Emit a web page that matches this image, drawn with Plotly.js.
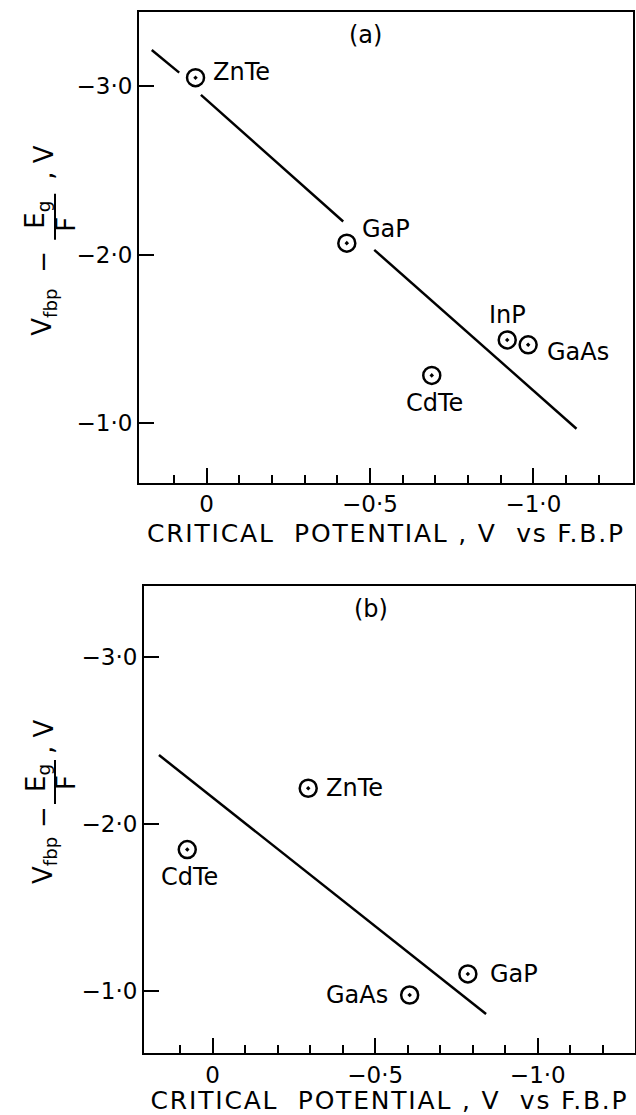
<!DOCTYPE html>
<html>
<head>
<meta charset="utf-8">
<script src="https://cdn.plot.ly/plotly-3.0.1.min.js"></script>
<style>html,body{margin:0;padding:0;background:#fff;}#chart{width:636px;height:1115px;}
#chart .xtitle, #chart .x2title{letter-spacing:1.8px;}</style>
</head>
<body>
<div id="chart"></div>
<script>
// ---------- data ----------
// panel (a)
const matA  = ['ZnTe', 'GaP', 'InP', 'GaAs', 'CdTe'];
const critA = [0.034, -0.429, -0.920, -0.984, -0.689];   // critical potential, V vs F.B.P
const vA    = [-3.049, -2.068, -1.494, -1.465, -1.284];  // Vfbp - Eg/F, V
const fitAx = [0.168, 0.084, null, 0.0175, -0.418, null, -0.513, -1.132];
const fitAy = [-3.213, -3.079, null, -2.947, -2.196, null, -2.028, -0.968];
// panel (b)
const matB  = ['ZnTe', 'CdTe', 'GaAs', 'GaP'];
const critB = [-0.294, 0.078, -0.606, -0.785];
const vB    = [-2.212, -1.845, -0.974, -1.100];
const fitBx = [0.165, -0.841];
const fitBy = [-2.411, -0.860];
// ticks
const xTickVals  = [0, -0.5, -1.0];
const xTickText  = ['0', '−0·5', '−1·0'];
const xMinorVals = [0.1, -0.1, -0.2, -0.3, -0.4, -0.6, -0.7, -0.8, -0.9, -1.1, -1.2];
const yTickVals  = [-3, -2, -1];
const yTickText  = ['−3·0', '−2·0', '−1·0'];
const panelTags  = ['(a)', '(b)'];
const xTitle = 'CRITICAL\u00a0\u00a0POTENTIAL\u00a0,\u00a0V\u00a0\u00a0vs\u00a0F.B.P';

// ---------- styles ----------
const FONT = 'DejaVu Sans, Liberation Sans, sans-serif';
const W = 636, H = 1115;
const px = v => v / W, py = v => 1 - v / H;

const markerStyle = {symbol: 'circle-open-dot', size: 17, color: '#000', line: {color: '#000', width: 2.5}};

const traces = [
  {x: fitAx, y: fitAy, xaxis: 'x', yaxis: 'y', mode: 'lines', line: {color: '#000', width: 2.5}, connectgaps: false, hoverinfo: 'skip'},
  {x: critA, y: vA, text: matA, xaxis: 'x', yaxis: 'y', mode: 'markers', marker: markerStyle},
  {x: fitBx, y: fitBy, xaxis: 'x2', yaxis: 'y2', mode: 'lines', line: {color: '#000', width: 2.5}, hoverinfo: 'skip'},
  {x: critB, y: vB, text: matB, xaxis: 'x2', yaxis: 'y2', mode: 'markers', marker: markerStyle}
];

function xAxis(domain, range, anchor) {
  return {
    domain: domain, range: range, anchor: anchor,
    showline: true, mirror: true, linecolor: '#000', linewidth: 2,
    showgrid: false, zeroline: false,
    tickmode: 'array', tickvals: xTickVals, ticktext: xTickText,
    ticks: 'inside', ticklen: 15, tickwidth: 2, tickcolor: '#000',
    tickfont: {family: FONT, size: 23, color: '#000'},
    minor: {tickmode: 'array', tickvals: xMinorVals, ticks: 'inside', ticklen: 8, tickwidth: 2, tickcolor: '#000', showgrid: false},
    title: {text: xTitle, font: {family: FONT, size: 25, color: '#000'}, standoff: 8},
    automargin: false, fixedrange: true
  };
}
function yAxis(domain, range, anchor) {
  return {
    domain: domain, range: range, anchor: anchor,
    showline: true, mirror: true, linecolor: '#000', linewidth: 2,
    showgrid: false, zeroline: false,
    tickmode: 'array', tickvals: yTickVals, ticktext: yTickText,
    ticks: 'inside', ticklen: 15, tickwidth: 2, tickcolor: '#000',
    tickfont: {family: FONT, size: 23, color: '#000'},
    automargin: false, fixedrange: true
  };
}

// point label offsets (pixels) : [xanchor, xshift, yshift]
const labA = [['left', 15, 6], ['left', 13, 14], ['center', 0, 25], ['left', 17, -7], ['center', 3, -28]];
const labB = [['left', 16, 0], ['center', 2, -27], ['right', -20, 0], ['left', 20, 0]];

const ann = [];
matA.forEach((m, i) => ann.push({x: critA[i], y: vA[i], xref: 'x', yref: 'y', text: m, showarrow: false,
  xanchor: labA[i][0], yanchor: 'middle', xshift: labA[i][1], yshift: labA[i][2],
  font: {family: FONT, size: 24, color: '#000'}}));
matB.forEach((m, i) => ann.push({x: critB[i], y: vB[i], xref: 'x2', yref: 'y2', text: m, showarrow: false,
  xanchor: labB[i][0], yanchor: 'middle', xshift: labB[i][1], yshift: labB[i][2],
  font: {family: FONT, size: 24, color: '#000'}}));

// panel tags
[[365, 35], [371, 609]].forEach((p, i) => ann.push({x: px(p[0]), y: py(p[1]), xref: 'paper', yref: 'paper',
  text: panelTags[i], showarrow: false, xanchor: 'center', yanchor: 'middle',
  font: {family: FONT, size: 24, color: '#000'}}));

// rotated y-axis label built from pieces (with a stacked Eg/F fraction)
const shapes = [];
function yLabel(top, off) {
  const f = {family: FONT, size: 26, color: '#000'};
  const put = (text, x, y) => ann.push({x: px(x), y: py(top + y), xref: 'paper', yref: 'paper', text: text,
    showarrow: false, textangle: -90, xanchor: 'center', yanchor: 'middle', font: f});
  put('V<sub>fbp</sub>', 44, off.v);
  put('−', 43, off.minus);
  put('E<sub>g</sub>', 37, off.e);
  put('F', 66, off.f);
  put(',\u00a0V', 44, off.cv);
  shapes.push({type: 'line', xref: 'paper', yref: 'paper', x0: px(55), x1: px(55),
    y0: py(top + off.bar0), y1: py(top + off.bar1), line: {color: '#000', width: 2}});
}
yLabel(11.7, {v: 301, minus: 250, e: 203, f: 213, cv: 151, bar0: 182, bar1: 228});
yLabel(586, {v: 275, minus: 231, e: 192, f: 197, cv: 151, bar0: 174, bar1: 218});

const layout = {
  width: W, height: H, margin: {l: 0, r: 0, t: 0, b: 0},
  paper_bgcolor: '#fff', plot_bgcolor: '#fff', showlegend: false,
  font: {family: FONT, color: '#000'},
  xaxis:  xAxis([px(139), px(632.7)], [0.207, -1.304], 'y'),
  yaxis:  yAxis([1 - 482.5 / H, 1 - 11.7 / H], [-0.649, -3.44], 'x'),
  xaxis2: xAxis([px(144), px(635)], [0.211, -1.299], 'y2'),
  yaxis2: yAxis([1 - 1053.3 / H, 1 - 586 / H], [-0.625, -3.423], 'x2'),
  annotations: ann, shapes: shapes
};

Plotly.newPlot('chart', traces, layout, {displayModeBar: false, staticPlot: true});
</script>
</body>
</html>
